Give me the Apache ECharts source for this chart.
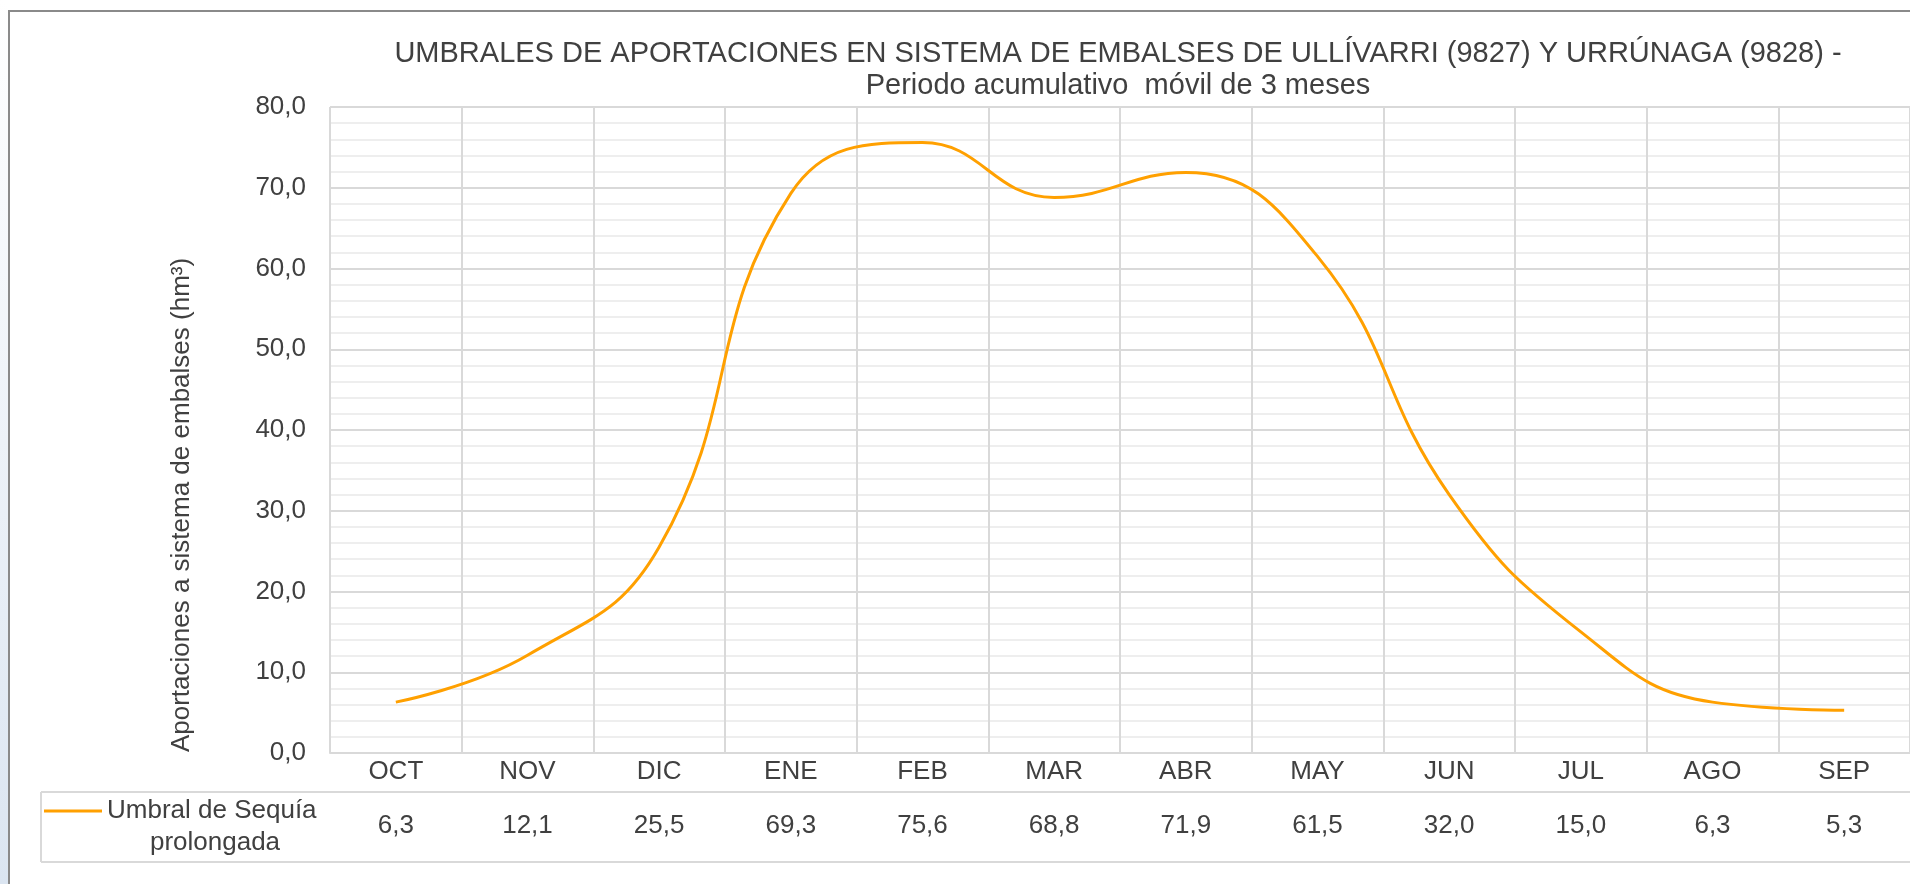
<!DOCTYPE html>
<html>
<head>
<meta charset="utf-8">
<script src="https://cdn.jsdelivr.net/npm/echarts@6/dist/echarts.min.js"></script>
<style>
html, body { margin: 0; padding: 0; background: #fff; }
#main { width: 1910px; height: 884px; }
</style>
</head>
<body>
<div id="main"></div>
<script>
// meses del año hidrológico
var meses = ['OCT', 'NOV', 'DIC', 'ENE', 'FEB', 'MAR', 'ABR', 'MAY', 'JUN', 'JUL', 'AGO', 'SEP'];
// umbral de sequía prolongada (hm3)
var umbral = [6.3, 12.1, 25.5, 69.3, 75.6, 68.8, 71.9, 61.5, 32.0, 15.0, 6.3, 5.3];
var serieNombre = 'Umbral de Sequía';
var serieNombre2 = 'prolongada';

var fmt = function (v) { return v.toFixed(1).replace('.', ','); };
var txt = '#404040';
var fuente = '"Liberation Sans", Arial, sans-serif';
var gridCol = '#d9d9d9';
var minorCol = '#eeeeee';

var chart = echarts.init(document.getElementById('main'));

var option = {
	animation: false,
	textStyle: { fontFamily: fuente },
	grid: { left: 330, top: 107, width: 1600, height: 646 },
	legend: {
		left: 44, top: 798, padding: 0,
		icon: 'rect', itemWidth: 58, itemHeight: 3,
		textStyle: { fontSize: 26, color: txt, fontFamily: fuente },
		data: [serieNombre]
	},
	xAxis: [
		{
			type: 'category', data: meses, boundaryGap: true,
			axisLine: { lineStyle: { color: gridCol, width: 2 } },
			axisTick: { length: 109, lineStyle: { color: gridCol, width: 2 } },
			axisLabel: { fontSize: 26, color: txt, margin: 6, fontFamily: fuente },
			splitLine: { show: true, lineStyle: { color: gridCol, width: 2 } }
		},
		{
			// fila de valores de la tabla
			type: 'category', data: umbral.map(fmt), position: 'bottom', offset: 39,
			axisLine: { show: false }, axisTick: { show: false },
			axisLabel: { fontSize: 26, color: txt, margin: 21, fontFamily: fuente },
			splitLine: { show: false }
		},
		{
			// líneas verticales menores en el centro de cada mes
			type: 'category', data: meses, position: 'bottom',
			axisLine: { show: false }, axisLabel: { show: false },
			axisTick: { alignWithLabel: true, inside: true, length: 645, lineStyle: { color: minorCol, width: 2 } },
			splitLine: { show: false }
		}
	],
	yAxis: {
		type: 'value', min: 0, max: 80, interval: 10,
		axisLine: { show: false }, axisTick: { show: false },
		axisLabel: { fontSize: 26, color: txt, margin: 24, formatter: fmt, fontFamily: fuente },
		splitLine: { lineStyle: { color: gridCol, width: 2 } },
		minorTick: { show: false, splitNumber: 5 },
		minorSplitLine: { show: true, lineStyle: { color: minorCol, width: 2 } }
	},
	series: [{
		name: serieNombre, type: 'line', data: umbral,
		smooth: 0.45, symbol: 'none',
		itemStyle: { color: '#FFA000' },
		lineStyle: { color: '#FFA000', width: 3 },
		z: 5
	}],
	graphic: [
		{ type: 'rect', shape: { x: 0, y: 0, width: 8, height: 884 }, silent: true,
			style: { fill: new echarts.graphic.LinearGradient(0, 0, 0, 1, [{ offset: 0, color: '#ffffff' }, { offset: 1, color: '#dbe5f1' }]) } },
		{ type: 'rect', shape: { x: 9, y: 11, width: 2000, height: 1000 }, silent: true,
			style: { fill: null, stroke: '#8a8a8a', lineWidth: 2 } },
		{ type: 'line', shape: { x1: 41, y1: 792, x2: 1910, y2: 792 }, style: { stroke: gridCol, lineWidth: 2 } },
		{ type: 'line', shape: { x1: 41, y1: 862, x2: 1910, y2: 862 }, style: { stroke: gridCol, lineWidth: 2 } },
		{ type: 'line', shape: { x1: 41, y1: 792, x2: 41, y2: 862 }, style: { stroke: gridCol, lineWidth: 2 } },
		{ type: 'text', x: 215, y: 843, style: { text: serieNombre2, fill: txt, font: '26px ' + fuente, align: 'center', verticalAlign: 'middle' } },
		{ type: 'text', x: 1118, y: 38, style: {
			text: 'UMBRALES DE APORTACIONES EN SISTEMA DE EMBALSES DE ULLÍVARRI (9827) Y URRÚNAGA (9828) -\nPeriodo acumulativo  móvil de 3 meses',
			fill: txt, font: '29px ' + fuente, align: 'center', verticalAlign: 'top', lineHeight: 32 } },
		{ type: 'text', x: 182, y: 505, rotation: Math.PI / 2, style: {
			text: 'Aportaciones a sistema de embalses (hm³)', fill: txt, font: '26px ' + fuente,
			align: 'center', verticalAlign: 'middle' } }
	]
};

chart.setOption(option);
</script>
</body>
</html>
